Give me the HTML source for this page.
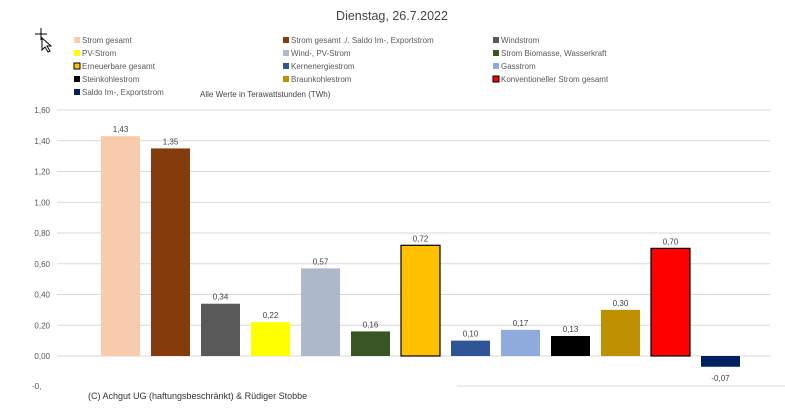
<!DOCTYPE html>
<html><head><meta charset="utf-8"><style>
body{margin:0;background:#fff;font-family:"Liberation Sans",sans-serif;}
svg text{font-family:"Liberation Sans",sans-serif;}
</style></head><body>
<svg width="785" height="409" xmlns="http://www.w3.org/2000/svg" id="c">
<text x="392" y="20" text-anchor="middle" font-size="12.5" fill="#444">Dienstag, 26.7.2022</text>
<g stroke="#000" fill="none" stroke-width="1">
<path d="M41 28v12M35 34h12"/><path d="M42 38l0 12 3-3 3 5 2-1-3-5 4 0z" fill="#fff"/>
</g>
<text x="200" y="97" font-size="8" fill="#444">Alle Werte in Terawattstunden (TWh)</text>
<g id="grid"></g><g id="bars"></g><g id="legend"></g>
<line x1="457" y1="386" x2="785" y2="386" stroke="#d9d9d9"/>
<text x="32" y="389" font-size="8" fill="#555">-0,</text>
<text x="88" y="399" font-size="9" fill="#333">(C) Achgut UG (haftungsbeschränkt) &amp; Rüdiger Stobbe</text>
</svg>
<script>
const categories=["Strom gesamt","Strom gesamt ./. Saldo Im-, Exportstrom","Windstrom","PV-Strom","Wind-, PV-Strom","Strom Biomasse, Wasserkraft","Erneuerbare gesamt","Kernenergiestrom","Gasstrom","Steinkohlestrom","Braunkohlestrom","Konventioneller Strom gesamt","Saldo Im-, Exportstrom"];
const values=[1.43,1.35,0.34,0.22,0.57,0.16,0.72,0.10,0.17,0.13,0.30,0.70,-0.07];
const colors=["#f8cbad","#843c0c","#595959","#ffff00","#adb9ca","#375623","#ffc000","#2f5597","#8faadc","#000000","#bf9000","#ff0000","#002060"];
const outlined=[false,false,false,false,false,false,true,false,false,false,false,true,false];
const ticks=[0,0.2,0.4,0.6,0.8,1.0,1.2,1.4,1.6];
const NS="http://www.w3.org/2000/svg";
const y=v=>356-v*153.75;
const x=i=>101+i*50;
function mk(t,a,p){const e=document.createElementNS(NS,t);for(const k in a)e.setAttribute(k,a[k]);p.appendChild(e);return e;}
const g=document.getElementById('grid');
ticks.forEach(t=>{
 const l=mk('line',{x1:57,x2:770,y1:y(t),y2:y(t),stroke:'#d9d9d9'},g);
 
 
 const tx=mk('text',{x:50,y:y(t)+3,'text-anchor':'end','font-size':8,fill:'#555'},g);
 tx.textContent=t.toFixed(2).replace('.',',');
 
 
});
const b=document.getElementById('bars');
values.forEach((v,i)=>{
 const top=Math.min(y(v),y(0)),h=Math.abs(y(v)-y(0));
 const r=mk('rect',{x:x(i),y:top,width:39,height:h,fill:colors[i]},b);
 if(outlined[i]){r.setAttribute('stroke','#000');r.setAttribute('stroke-width','1.2');}
 
 
 const t=mk('text',{x:x(i)+19.5,y:v>=0?top-4:top+h+14,'text-anchor':'middle','font-size':8,fill:'#404040'},b);
 t.textContent=v.toFixed(2).replace('.',',');
 
 
});
const lg=document.getElementById('legend');
categories.forEach((c,i)=>{
 const col=i%3,row=Math.floor(i/3);
 const lx=[74,283,493][col],ly=43+row*13;
 const s=mk('rect',{x:lx,y:ly-6,width:6,height:6,fill:colors[i]},lg);
 if(outlined[i]){s.setAttribute('stroke','#000');s.setAttribute('stroke-width','1');}
 
 
 const t=mk('text',{x:lx+8,y:ly,'font-size':8,fill:'#595959'},lg);
 t.textContent=c;
 
 
});
</script>
</body></html>
